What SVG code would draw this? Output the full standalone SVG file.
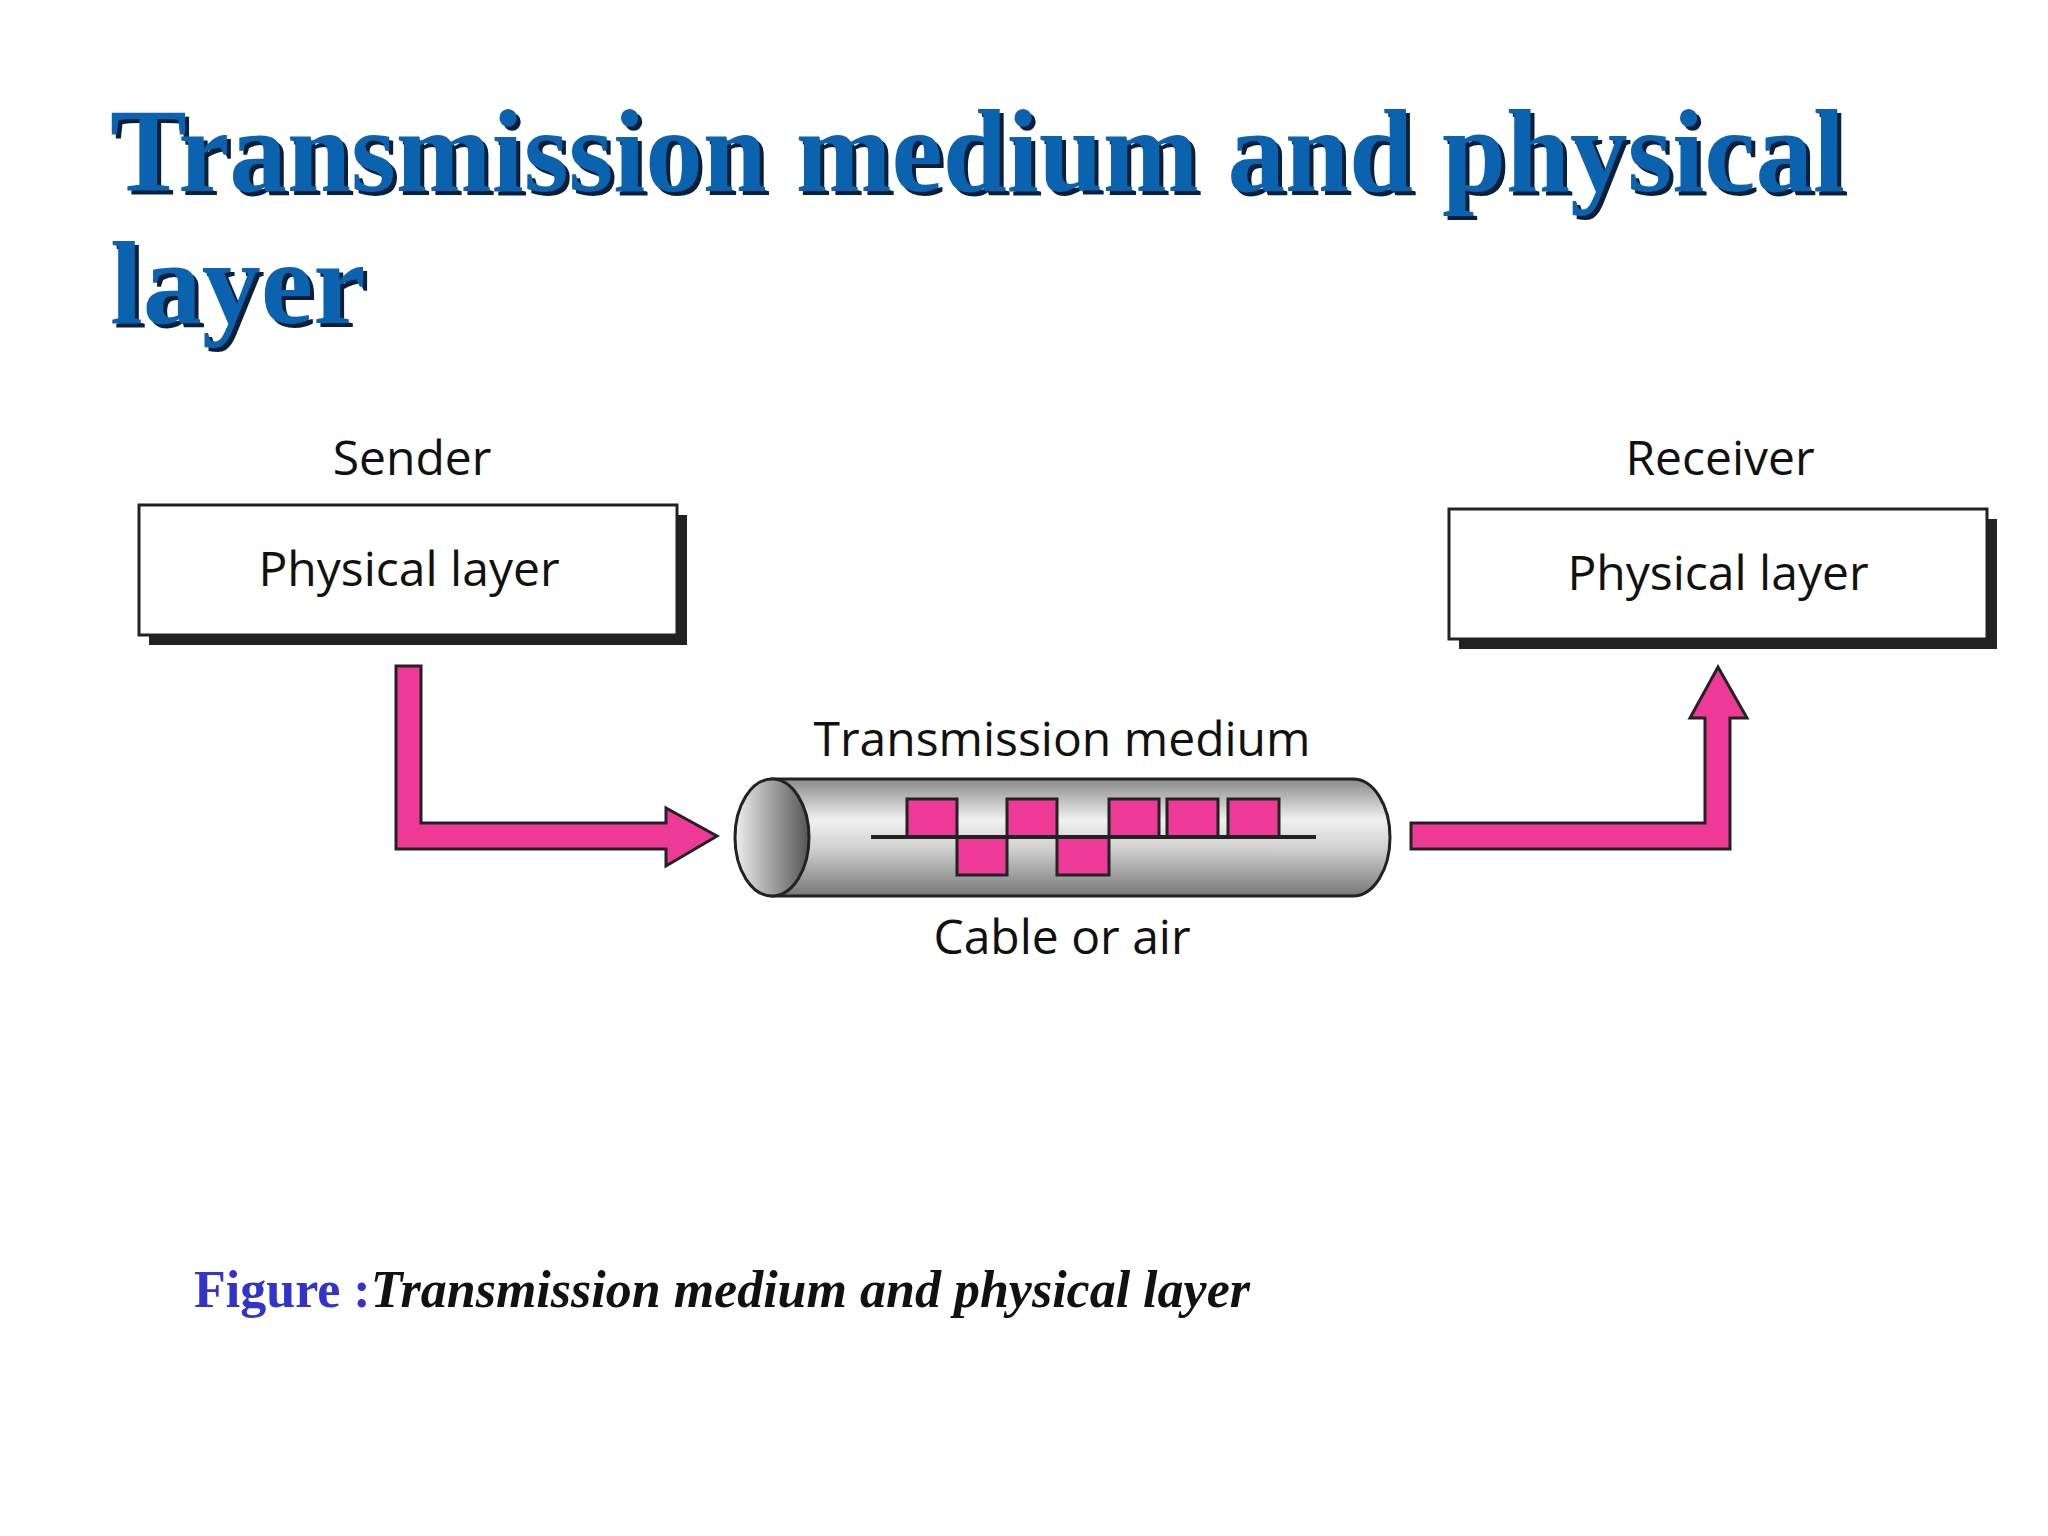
<svg xmlns="http://www.w3.org/2000/svg" width="2048" height="1536" viewBox="0 0 2048 1536">
<style>
.t{font-family:"Liberation Serif",serif;font-weight:bold;font-size:118px}
.lb{font-family:"Open Sans","Liberation Sans",sans-serif;font-size:48px;fill:#111;text-anchor:middle}
.box{fill:#fff;stroke:#222;stroke-width:3}
.sh{fill:#222}
.pk{fill:#EE3A96;stroke:#222;stroke-width:3}
</style>
<defs>
<linearGradient id="cyl" x1="0" y1="0" x2="0" y2="1">
<stop offset="0" stop-color="#8a8a8a"/><stop offset="0.35" stop-color="#f0f0f0"/><stop offset="0.6" stop-color="#cfcfcf"/><stop offset="1" stop-color="#777"/>
</linearGradient>
<linearGradient id="end" x1="0" y1="0" x2="1" y2="0">
<stop offset="0" stop-color="#eee"/><stop offset="1" stop-color="#555"/>
</linearGradient>
</defs>
<rect width="2048" height="1536" fill="#fff"/>
<g id="title">
<text class="t" x="114" y="195" fill="#0a1f3a" textLength="1735" lengthAdjust="spacingAndGlyphs">Transmission medium and physical</text>
<text class="t" x="110" y="191" fill="#0b63b0" textLength="1735" lengthAdjust="spacingAndGlyphs">Transmission medium and physical</text>
<text class="t" x="114" y="327" fill="#0a1f3a">layer</text>
<text class="t" x="110" y="323" fill="#0b63b0">layer</text>
</g>
<g id="sender">
<text class="lb" x="412" y="475">Sender</text>
<rect class="sh" x="149" y="515" width="538" height="130"/>
<rect class="box" x="139" y="505" width="538" height="130"/>
<text class="lb" x="409" y="586">Physical layer</text>
</g>
<g id="receiver">
<text class="lb" x="1720" y="475">Receiver</text>
<rect class="sh" x="1459" y="519" width="538" height="130"/>
<rect class="box" x="1449" y="509" width="538" height="130"/>
<text class="lb" x="1718" y="590">Physical layer</text>
</g>
<g id="medium">
<text class="lb" x="1062" y="756">Transmission medium</text>
<path d="M772 779 H1353 A37 58.5 0 0 1 1353 896 H772 Z" fill="url(#cyl)" stroke="#222" stroke-width="3"/>
<ellipse cx="772" cy="837.5" rx="37" ry="58.5" fill="url(#end)" stroke="#222" stroke-width="3"/>
<g class="pk">
<rect x="907" y="799" width="50" height="38"/>
<rect x="957" y="837" width="50" height="38"/>
<rect x="1007" y="799" width="50" height="38"/>
<rect x="1057" y="837" width="52" height="38"/>
<rect x="1109" y="799" width="50" height="38"/>
<rect x="1167" y="799" width="51" height="38"/>
<rect x="1228" y="799" width="51" height="38"/>
</g>
<line x1="871" y1="837" x2="1316" y2="837" stroke="#222" stroke-width="4"/>
<text class="lb" x="1062" y="954">Cable or air</text>
</g>
<g id="connectors">
<path class="pk" d="M396 666 H421 V823 H666 V808 L717 836 L666 866 V849 H396 Z"/>
<path class="pk" d="M1411 823 H1705 V718 H1690 L1718 667 L1747 718 H1730 V849 H1411 Z"/>
</g>
<g id="caption" font-family="Liberation Serif,serif" font-weight="bold" font-size="52">
<text x="194" y="1307"><tspan fill="#3333cc">Figure :</tspan><tspan font-style="italic" fill="#111">Transmission medium and physical layer</tspan></text>
</g>
</svg>
